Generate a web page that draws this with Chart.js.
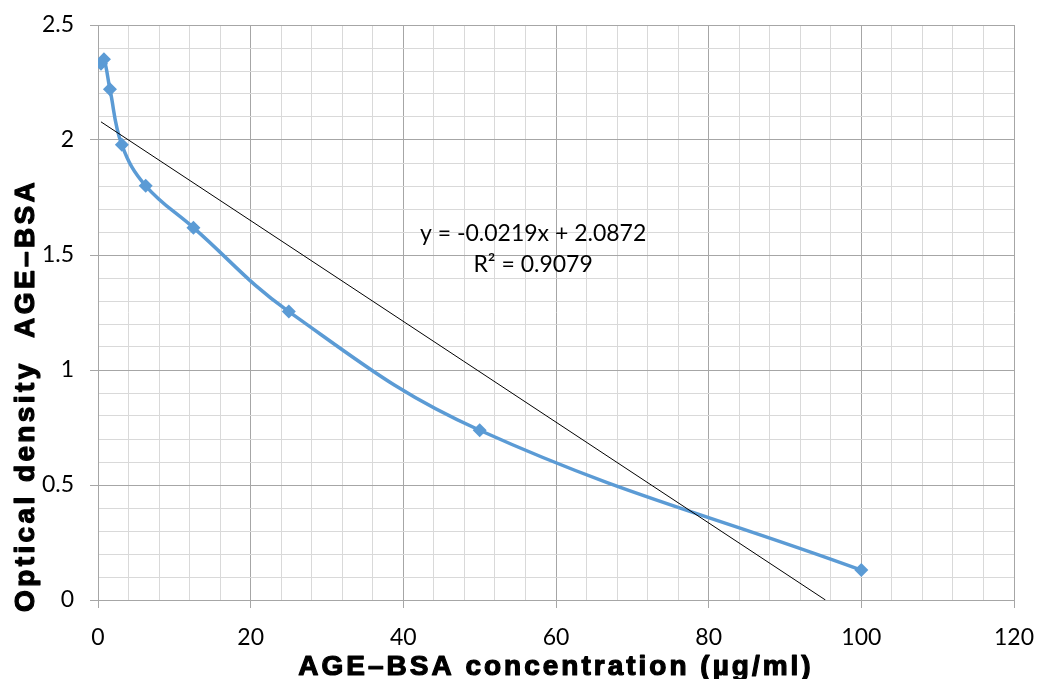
<!DOCTYPE html>
<html>
<head>
<meta charset="utf-8">
<script src="https://cdn.jsdelivr.net/npm/chart.js@4"></script>
<style>
  html, body { margin: 0; padding: 0; background: #fff; }
  #wrap { width: 1039px; height: 679px; position: relative; }
</style>
</head>
<body>
<div id="wrap"><canvas id="chart"></canvas></div>
<script>
// AGE-BSA standard curve
const concentration = [0.39, 0.78, 1.5625, 3.125, 6.25, 12.5, 25, 50, 100];
const opticalDensity = [2.332, 2.351, 2.221, 1.979, 1.801, 1.619, 1.254, 0.738, 0.130];

// linear trendline end points (y = -0.0219x + 2.0872, cut at the x axis)
const trendX = [0.39, 95.3];
const trendY = [2.079, 0];

const equationLines = ['y = -0.0219x + 2.0872', 'R\u00B2 = 0.9079'];
const xTitle = 'AGE\u2013BSA concentration (\u00B5g/ml)';
const yTitle = 'Optical density  AGE\u2013BSA';

const BLUE = '#5B9BD5';
const MAJOR = '#a6a6a6';
const MINOR = '#d9d9d9';
const TICK_FONT = { family: 'Lato, "Open Sans", sans-serif', size: 23 };

const isMajorX = v => Math.round(v) % 20 === 0;
const isMajorY = v => Math.round(v * 10) % 5 === 0;

const titlesPlugin = {
  id: 'titles',
  afterDraw(chart) {
    const ctx = chart.ctx;
    const area = chart.chartArea;
    const xs = chart.scales.x, ys = chart.scales.y;

    ctx.save();
    // trendline equation
    ctx.font = '23px Lato, "Open Sans", sans-serif';
    ctx.fillStyle = '#000';
    ctx.textAlign = 'center';
    ctx.textBaseline = 'alphabetic';
    ctx.fillText(equationLines[0], xs.getPixelForValue(57), ys.getPixelForValue(1.563));
    ctx.fillText(equationLines[1], xs.getPixelForValue(57), ys.getPixelForValue(1.426));

    // axis titles, heavy and wide like the original
    ctx.font = 'bold 28px "Liberation Sans", Arial, sans-serif';
    ctx.letterSpacing = '3px';
    ctx.strokeStyle = '#000';
    ctx.lineWidth = 1.2;
    ctx.lineJoin = 'round';
    const cx = (area.left + area.right) / 2;
    ctx.fillText(xTitle, cx, 675);
    ctx.strokeText(xTitle, cx, 675);

    ctx.letterSpacing = '3.4px';
    ctx.translate(33.5, 612);
    ctx.rotate(-Math.PI / 2);
    ctx.textAlign = 'left';
    ctx.fillText(yTitle, 0, 0);
    ctx.strokeText(yTitle, 0, 0);
    ctx.restore();
  }
};

new Chart(document.getElementById('chart'), {
  type: 'scatter',
  data: {
    datasets: [
      {
        label: 'Linear trend',
        data: trendX.map((x, i) => ({ x, y: trendY[i] })),
        showLine: true,
        borderColor: '#000',
        borderWidth: 1,
        pointRadius: 0,
        tension: 0,
        order: 0
      },
      {
        label: 'Optical density',
        data: concentration.map((x, i) => ({ x, y: opticalDensity[i] })),
        showLine: true,
        borderColor: BLUE,
        backgroundColor: BLUE,
        borderWidth: 3.5,
        tension: 0.4,
        pointStyle: 'rectRot',
        pointRadius: 7,
        pointHoverRadius: 7,
        pointBorderWidth: 0,
        order: 1
      }
    ]
  },
  options: {
    responsive: true,
    maintainAspectRatio: false,
    animation: false,
    layout: { padding: { left: 0, right: 25, top: 25, bottom: 0 } },
    plugins: {
      legend: { display: false },
      tooltip: { enabled: false }
    },
    scales: {
      x: {
        type: 'linear',
        min: 0,
        max: 120,
        afterFit: s => { s.height = 79; s.paddingLeft = 0; s.paddingRight = 0; },
        border: { display: true, color: MAJOR, width: 1 },
        grid: {
          color: c => isMajorX(c.tick.value) ? MAJOR : MINOR,
          tickColor: c => isMajorX(c.tick.value) ? MAJOR : 'transparent',
          tickLength: 8,
          lineWidth: 1
        },
        ticks: {
          stepSize: 4,
          autoSkip: false,
          maxRotation: 0,
          padding: 16,
          color: '#000',
          font: TICK_FONT,
          callback: v => isMajorX(v) ? String(Math.round(v)) : ''
        }
      },
      y: {
        type: 'linear',
        min: 0,
        max: 2.5,
        afterFit: s => { s.width = 98; s.paddingTop = 0; s.paddingBottom = 0; },
        border: { display: true, color: MAJOR, width: 1 },
        grid: {
          color: c => isMajorY(c.tick.value) ? MAJOR : MINOR,
          tickColor: c => isMajorY(c.tick.value) ? MAJOR : 'transparent',
          tickLength: 8,
          lineWidth: 1
        },
        ticks: {
          stepSize: 0.1,
          autoSkip: false,
          padding: 16,
          color: '#000',
          font: TICK_FONT,
          callback: v => isMajorY(v) ? String(Math.round(v * 10) / 10) : ''
        }
      }
    }
  },
  plugins: [titlesPlugin]
});
</script>
</body>
</html>
